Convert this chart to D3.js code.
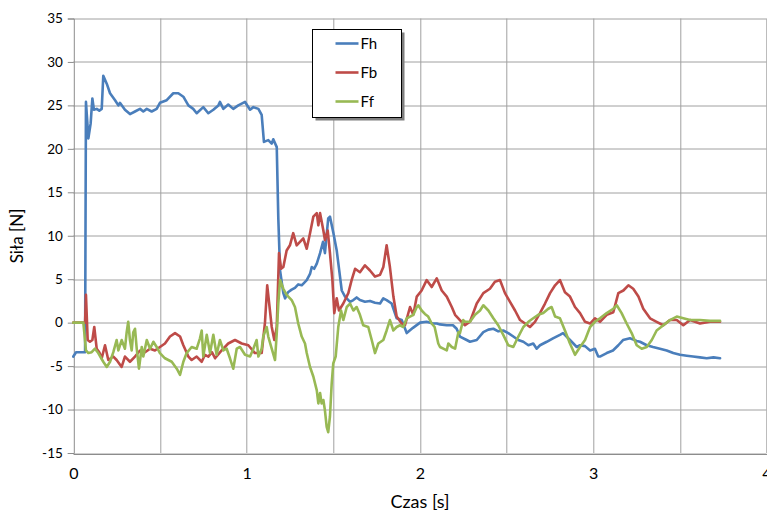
<!DOCTYPE html>
<html>
<head>
<meta charset="utf-8">
<script src="https://cdn.jsdelivr.net/npm/d3@7"></script>
<style>
  body { margin: 0; background: #fff; }
  text { font-family: Lato, "Noto Sans", sans-serif; fill: #000; }
</style>
</head>
<body>
<div id="my_dataviz"></div>
<script>

// --------------------------------------------------------
// (1) Data
// --------------------------------------------------------

// [time s, force N]
var fh = [
  [0.000,-3.9],[0.016,-3.4],[0.068,-3.4],[0.073,25.4],[0.087,21.2],[0.100,22.9],[0.110,25.8],[0.119,24.5],
  [0.135,24.6],[0.150,24.4],[0.164,24.6],[0.173,28.4],[0.193,27.5],[0.212,26.4],[0.241,25.6],[0.260,25.0],
  [0.269,25.3],[0.298,24.5],[0.327,24.0],[0.356,24.3],[0.385,24.6],[0.404,24.3],[0.424,24.6],[0.452,24.3],
  [0.481,24.6],[0.500,25.3],[0.539,25.6],[0.577,26.4],[0.606,26.4],[0.635,26.0],[0.664,25.0],[0.692,24.6],
  [0.712,24.1],[0.750,24.8],[0.779,24.1],[0.808,24.5],[0.837,25.0],[0.846,25.4],[0.866,24.6],[0.894,25.1],
  [0.923,24.6],[0.952,25.0],[0.991,25.4],[1.020,24.5],[1.039,24.8],[1.068,24.6],[1.087,23.9],[1.100,20.8],
  [1.125,21.0],[1.145,20.6],[1.154,21.1],[1.174,20.2],[1.183,12.0],[1.193,6.0],[1.212,3.4],[1.222,2.8],
  [1.239,3.5],[1.260,3.8],[1.279,4.0],[1.298,4.4],[1.318,4.3],[1.347,4.9],[1.366,5.6],[1.376,6.4],
  [1.390,6.2],[1.405,6.8],[1.424,8.0],[1.441,9.3],[1.452,8.0],[1.471,12.0],[1.481,12.2],[1.500,10.4],
  [1.520,8.3],[1.539,5.3],[1.549,3.7],[1.568,3.0],[1.597,2.4],[1.616,2.6],[1.635,2.9],[1.654,2.6],
  [1.683,2.4],[1.712,2.5],[1.741,2.3],[1.770,2.2],[1.789,2.8],[1.808,2.6],[1.837,2.2],[1.866,0.5],
  [1.895,0.3],[1.924,-1.2],[1.960,-0.6],[2.001,0.0],[2.039,0.1],[2.076,-0.1],[2.097,-0.1],[2.116,-0.2],
  [2.155,-0.3],[2.191,-0.3],[2.212,-0.7],[2.231,-1.6],[2.270,-2.0],[2.289,-2.2],[2.328,-2.0],[2.366,-1.1],
  [2.395,-0.8],[2.424,-0.7],[2.452,-1.0],[2.481,-0.9],[2.510,-1.2],[2.539,-1.6],[2.568,-2.0],[2.597,-2.2],
  [2.626,-2.6],[2.654,-2.4],[2.674,-3.0],[2.693,-2.6],[2.732,-2.2],[2.768,-1.8],[2.808,-1.4],[2.826,-1.2],
  [2.866,-2.0],[2.905,-2.8],[2.924,-2.6],[2.953,-2.7],[2.982,-3.2],[3.010,-3.0],[3.029,-3.9],[3.039,-3.9],
  [3.078,-3.5],[3.114,-3.2],[3.145,-2.6],[3.172,-2.0],[3.212,-1.8],[3.251,-2.1],[3.270,-2.2],[3.309,-2.6],
  [3.345,-2.8],[3.385,-3.0],[3.424,-3.2],[3.462,-3.5],[3.501,-3.7],[3.540,-3.8],[3.576,-3.9],[3.616,-4.0],
  [3.655,-4.1],[3.694,-4.0],[3.732,-4.1]
]

var fb = [
  [0.000,0.0],[0.068,0.0],[0.073,3.2],[0.083,-2.0],[0.096,-2.2],[0.110,-2.0],[0.121,-0.5],[0.135,-3.0],
  [0.150,-3.4],[0.164,-4.1],[0.183,-2.6],[0.202,-4.3],[0.231,-3.9],[0.250,-4.3],[0.279,-5.1],[0.298,-3.9],
  [0.327,-4.5],[0.356,-3.9],[0.385,-3.2],[0.414,-3.4],[0.443,-3.0],[0.471,-3.2],[0.500,-2.8],[0.529,-2.4],
  [0.558,-1.6],[0.587,-1.2],[0.616,-1.6],[0.635,-2.6],[0.664,-3.9],[0.683,-4.3],[0.712,-3.9],[0.741,-4.5],
  [0.760,-3.7],[0.779,-3.9],[0.800,-3.4],[0.818,-4.1],[0.856,-3.2],[0.894,-2.4],[0.933,-2.0],[0.972,-2.4],
  [1.010,-2.6],[1.048,-3.5],[1.087,-3.5],[1.106,0.0],[1.119,4.3],[1.145,-0.5],[1.160,-2.0],[1.174,-0.5],
  [1.187,8.0],[1.199,6.2],[1.212,6.4],[1.231,8.3],[1.250,8.9],[1.269,10.3],[1.289,8.9],[1.308,9.3],
  [1.327,9.7],[1.347,8.5],[1.366,10.3],[1.385,12.2],[1.405,12.6],[1.414,11.2],[1.424,12.6],[1.443,10.6],
  [1.452,9.5],[1.468,10.6],[1.481,8.0],[1.495,4.9],[1.506,1.1],[1.520,2.8],[1.533,1.4],[1.558,2.2],
  [1.587,3.4],[1.606,4.9],[1.626,6.2],[1.654,5.8],[1.683,6.6],[1.712,6.0],[1.741,5.3],[1.770,5.5],
  [1.789,6.4],[1.808,8.9],[1.827,6.4],[1.847,3.0],[1.866,0.7],[1.895,-0.1],[1.914,-0.3],[1.943,1.8],
  [1.962,0.9],[1.982,3.0],[2.010,3.7],[2.039,4.9],[2.068,4.1],[2.097,5.1],[2.126,3.7],[2.155,3.0],
  [2.184,1.8],[2.203,0.9],[2.231,0.3],[2.260,-0.3],[2.289,0.1],[2.328,2.2],[2.366,3.4],[2.404,3.9],
  [2.433,4.7],[2.462,4.9],[2.491,3.4],[2.520,2.4],[2.549,1.4],[2.578,0.3],[2.607,-0.1],[2.635,-0.5],
  [2.664,0.1],[2.693,1.1],[2.722,2.2],[2.751,3.4],[2.780,4.3],[2.808,4.9],[2.837,3.5],[2.866,3.0],
  [2.895,1.8],[2.924,1.1],[2.953,0.1],[2.982,-0.1],[3.010,0.5],[3.039,0.1],[3.078,0.9],[3.116,1.2],
  [3.145,3.4],[3.174,3.7],[3.203,4.3],[3.231,3.9],[3.261,3.0],[3.289,1.6],[3.328,0.5],[3.366,0.1],
  [3.405,-0.3],[3.443,0.3],[3.482,0.3],[3.520,-0.3],[3.559,0.3],[3.616,-0.1],[3.674,0.1],[3.732,0.1]
]

var ff = [
  [0.000,0.0],[0.058,0.0],[0.073,-3.2],[0.087,-3.5],[0.106,-3.4],[0.125,-3.0],[0.144,-3.5],[0.173,-4.5],
  [0.193,-5.1],[0.212,-4.5],[0.231,-3.4],[0.250,-2.0],[0.260,-3.2],[0.279,-2.0],[0.298,-3.0],[0.308,-1.1],
  [0.317,0.1],[0.327,-2.0],[0.337,-3.2],[0.346,-1.1],[0.356,-0.7],[0.366,-3.0],[0.379,-5.3],[0.395,-2.8],
  [0.404,-3.9],[0.424,-2.0],[0.443,-3.0],[0.462,-2.2],[0.481,-2.8],[0.500,-3.5],[0.529,-4.1],[0.568,-4.5],
  [0.597,-5.3],[0.616,-6.0],[0.635,-4.5],[0.654,-3.5],[0.683,-2.8],[0.712,-3.0],[0.731,-1.8],[0.741,-0.9],
  [0.750,-3.9],[0.770,-1.4],[0.789,-3.5],[0.808,-1.4],[0.827,-3.7],[0.846,-2.0],[0.866,-3.2],[0.885,-3.0],
  [0.904,-4.1],[0.923,-5.3],[0.943,-3.0],[0.962,-2.8],[0.991,-3.7],[1.020,-3.9],[1.039,-3.0],[1.058,-2.0],
  [1.068,-3.9],[1.087,-3.0],[1.096,-1.6],[1.116,-0.5],[1.125,-1.6],[1.145,-3.0],[1.164,-4.3],[1.174,-1.2],
  [1.183,2.2],[1.193,4.9],[1.212,3.9],[1.231,3.2],[1.260,2.6],[1.279,1.8],[1.298,-0.1],[1.318,-1.6],
  [1.337,-2.4],[1.347,-3.5],[1.366,-5.1],[1.385,-6.2],[1.405,-7.8],[1.414,-9.3],[1.424,-8.1],[1.433,-9.3],
  [1.443,-8.9],[1.452,-10.1],[1.462,-12.0],[1.471,-12.6],[1.481,-10.8],[1.491,-7.0],[1.500,-4.7],[1.514,-3.9],
  [1.529,-0.5],[1.545,1.4],[1.558,0.3],[1.578,1.8],[1.597,2.2],[1.616,1.4],[1.635,1.8],[1.654,0.9],
  [1.673,-0.3],[1.702,-0.5],[1.722,-2.0],[1.741,-3.5],[1.760,-2.4],[1.789,-2.0],[1.808,-0.9],[1.827,0.3],
  [1.847,-0.9],[1.866,-0.5],[1.885,-0.3],[1.904,-0.5],[1.924,0.5],[1.943,0.7],[1.962,0.9],[1.982,1.8],
  [1.991,2.0],[2.010,1.4],[2.029,1.0],[2.048,0.7],[2.068,-0.1],[2.085,-0.5],[2.106,-2.4],[2.116,-2.8],
  [2.135,-3.0],[2.155,-3.2],[2.164,-2.4],[2.184,-2.8],[2.203,-3.0],[2.222,-1.1],[2.231,-1.2],[2.250,0.3],
  [2.260,0.1],[2.289,0.1],[2.318,0.9],[2.347,1.4],[2.366,2.0],[2.395,1.4],[2.424,0.5],[2.452,-0.3],
  [2.481,-1.4],[2.510,-2.6],[2.539,-2.8],[2.568,-1.6],[2.597,-0.5],[2.626,0.1],[2.654,0.5],[2.683,0.9],
  [2.712,1.1],[2.741,1.6],[2.760,1.8],[2.780,0.7],[2.808,0.5],[2.837,-0.9],[2.866,-2.4],[2.895,-3.7],
  [2.924,-2.8],[2.953,-2.0],[2.982,-0.5],[3.010,0.1],[3.039,0.5],[3.078,1.1],[3.116,1.6],[3.136,2.0],
  [3.164,1.1],[3.193,-0.1],[3.222,-1.2],[3.251,-2.6],[3.280,-3.0],[3.309,-2.8],[3.338,-2.0],[3.366,-0.9],
  [3.405,-0.3],[3.443,0.3],[3.482,0.7],[3.520,0.5],[3.559,0.3],[3.616,0.3],[3.674,0.2],[3.732,0.2]
]

var seriesNames = ["Fh", "Fb", "Ff"]
var seriesColors = ["#4a7ebb", "#be4b48", "#98b954"]

var xTicks = [0, 1, 2, 3, 4]
var xGrid = [0.5, 1, 1.5, 2, 2.5, 3, 3.5, 4]
var yTicks = [-15, -10, -5, 0, 5, 10, 15, 20, 25, 30, 35]


// --------------------------------------------------------
// (2) Sizes
// --------------------------------------------------------

var svg_width = 767
var svg_height = 512

const margin = {
    top: 18.5,
    right: 0.5,
    bottom: 59,
    left: 73.3
}

var width = svg_width - (margin.left + margin.right)
var height = svg_height - (margin.top + margin.bottom)


// --------------------------------------------------------
// (3) Chart
// --------------------------------------------------------

const svg = d3.select("#my_dataviz")
    .append("svg")
        .attr("width", svg_width)
        .attr("height", svg_height)

const g = svg.append("g")
    .attr("transform", `translate(${margin.left}, ${margin.top})`)

const x = d3.scaleLinear()
    .domain([0, 4])
    .range([0, width])

const y = d3.scaleLinear()
    .domain([-15, 35])
    .range([height, 0])

// grid
g.selectAll(".hgrid")
    .data(yTicks)
    .join("line")
        .attr("x1", 0)
        .attr("x2", width)
        .attr("y1", d => Math.round(y(d)) + 0.5)
        .attr("y2", d => Math.round(y(d)) + 0.5)
        .attr("stroke", "#a0a0a0")

g.selectAll(".vgrid")
    .data(xGrid)
    .join("line")
        .attr("x1", d => Math.round(x(d)) + 0.5)
        .attr("x2", d => Math.round(x(d)) + 0.5)
        .attr("y1", 0)
        .attr("y2", height)
        .attr("stroke", "#a0a0a0")

// y axis (plain hyphen for negatives, like the original)
const yAxis = g.append("g")
    .attr("transform", "translate(0.5,0)")
    .call(d3.axisLeft(y).tickValues(yTicks).tickSize(6).tickPadding(5).tickFormat(d => String(d)))
yAxis.select(".domain").attr("stroke", "#8c8c8c")
yAxis.selectAll(".tick line").attr("stroke", "#8c8c8c")
yAxis.selectAll("text")
    .style("font-size", "13.5px")
    .style("font-family", "Lato, 'Noto Sans', sans-serif")

// x axis
const xAxis = g.append("g")
    .attr("transform", `translate(0, ${Math.round(height) + 0.5})`)
    .call(d3.axisBottom(x).tickValues(xTicks).tickSize(0).tickPadding(14).tickFormat(d => String(d)))
xAxis.select(".domain").attr("stroke", "#8c8c8c")
xAxis.selectAll("text")
    .style("font-size", "16px")
    .style("font-family", "Lato, 'Noto Sans', sans-serif")

// lines
const line = d3.line()
    .x(d => x(d[0]))
    .y(d => y(d[1]))

g.selectAll(".series")
    .data([fh, fb, ff])
    .join("path")
        .attr("d", line)
        .attr("fill", "none")
        .attr("stroke", (d, i) => seriesColors[i])
        .attr("stroke-width", 2.6)
        .attr("stroke-linejoin", "round")
        .attr("stroke-linecap", "round")

// axis titles
svg.append("text")
    .attr("x", 420)
    .attr("y", 508)
    .attr("text-anchor", "middle")
    .style("font-size", "18px")
    .text("Czas [s]")

svg.append("text")
    .attr("transform", "translate(23, 236) rotate(-90)")
    .attr("text-anchor", "middle")
    .style("font-size", "17px")
    .text("Siła [N]")

// legend
const legend = svg.append("g")
    .attr("transform", "translate(312.5, 29.5)")

legend.append("rect")
    .attr("x", 3).attr("y", 3)
    .attr("width", 89).attr("height", 88)
    .attr("fill", "#7f7f7f")

legend.append("rect")
    .attr("width", 89).attr("height", 88)
    .attr("fill", "#fff")
    .attr("stroke", "#000")

const item = legend.selectAll(".item")
    .data(seriesNames)
    .join("g")
        .attr("transform", (d, i) => `translate(0, ${14 + i * 29})`)

item.append("line")
    .attr("x1", 23).attr("x2", 46)
    .attr("stroke", (d, i) => seriesColors[i])
    .attr("stroke-width", 2.6)

item.append("text")
    .attr("x", 48)
    .attr("y", 5.5)
    .style("font-size", "15px")
    .text(d => d)

</script>
</body>
</html>
